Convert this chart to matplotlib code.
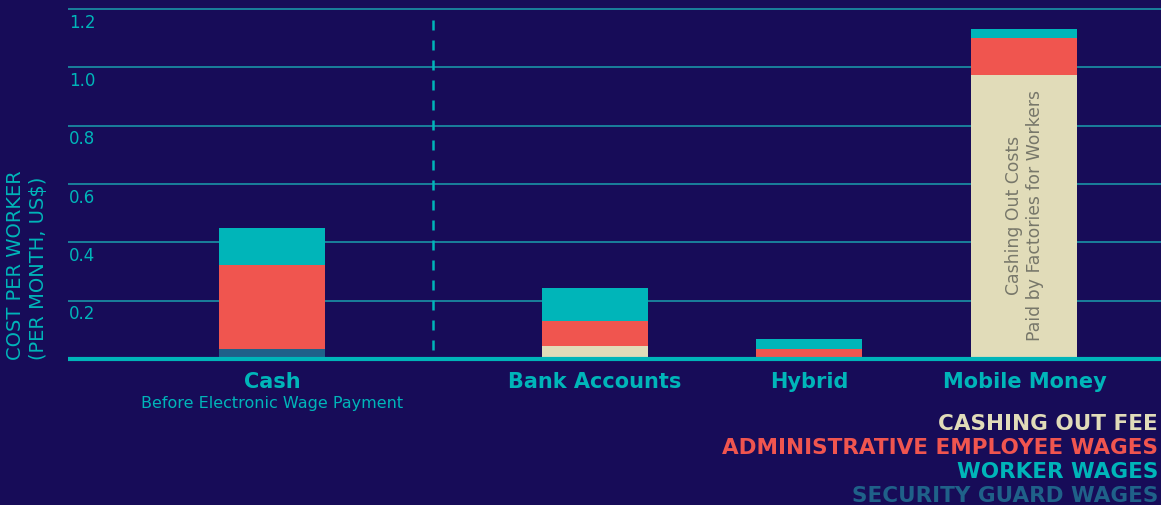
import matplotlib.pyplot as plt

# data
categories = ['Cash', 'Bank Accounts', 'Hybrid', 'Mobile Money']
positions = [0, 1.5, 2.5, 3.5]
security_guard = [0.034, 0, 0, 0]
cashing_fee = [0, 0.045, 0, 0.974]
admin_wages = [0.29, 0.086, 0.034, 0.125]
worker_wages = [0.125, 0.112, 0.035, 0.032]
yticks = [0.2, 0.4, 0.6, 0.8, 1.0, 1.2]

bg = '#170c58'
teal = '#00b5b9'
red = '#f0554f'
beige = '#e1dcb9'
sec = '#1f6189'

plt.rcParams['font.family'] = ['DejaVu Sans']
fig = plt.figure(figsize=(11.61, 5.06), dpi=100, facecolor=bg)
# axes from y=5px to y=369px, zero at 360px, 1.2 at 10px
ax = fig.add_axes([68 / 1161, 137 / 506, 1 - 68 / 1161, 364 / 506])
ax.set_facecolor(bg)

w = 0.493
bottom = [0, 0, 0, 0]
for vals, col in [(security_guard, sec), (cashing_fee, beige),
                  (admin_wages, red), (worker_wages, teal)]:
    ax.bar(positions, vals, w, bottom=bottom, color=col, zorder=3, linewidth=0)
    bottom = [b + v for b, v in zip(bottom, vals)]

ax.set_xlim(-0.949, 4.135)
ax.set_ylim(-9 / 291.7, 1.2 + 5 / 291.7)
for t in yticks:
    ax.axhline(t, color='#1a9fae', lw=1.1, zorder=1)
    ax.text(-0.945, t - 0.013, f'{t:.1f}', color=teal, fontsize=12,
            va='top', ha='left', zorder=2)
ax.axhline(0, color=teal, lw=3, zorder=4)
ax.plot([0.749, 0.749], [0.03, 1.18], color=teal, lw=1.8,
        ls=(0, (4, 4)), zorder=2)

for s in ax.spines.values():
    s.set_visible(False)
ax.set_xticks([])
ax.set_yticks([])

for p, c in zip(positions, categories):
    ax.text(p, -0.075, c, color=teal, fontsize=15, fontweight='bold',
            ha='center', va='center', clip_on=False)
ax.text(positions[0], -0.15, 'Before Electronic Wage Payment', color=teal,
        fontsize=11.5, ha='center', va='center', clip_on=False)

ax.text(positions[3], 0.497, 'Cashing Out Costs\nPaid by Factories for Workers',
        rotation=90, color='#77776a', fontsize=12.4, ha='center', va='center',
        multialignment='center', zorder=5)

fig.text(6 / 1161, 146 / 506, 'COST PER WORKER\n(PER MONTH, US$)',
         rotation=90, color=teal, fontsize=14, ha='left', va='bottom',
         multialignment='left', linespacing=1.25)

legend = [('CASHING OUT FEE', beige), ('ADMINISTRATIVE EMPLOYEE WAGES', red),
          ('WORKER WAGES', teal), ('SECURITY GUARD WAGES', sec)]
for i, (lab, col) in enumerate(legend):
    fig.text(1158 / 1161, 1 - (424 + i * 24) / 506, lab, color=col,
             fontsize=15.5, fontweight='bold', ha='right', va='center')

fig.savefig('out.png', facecolor=bg)
